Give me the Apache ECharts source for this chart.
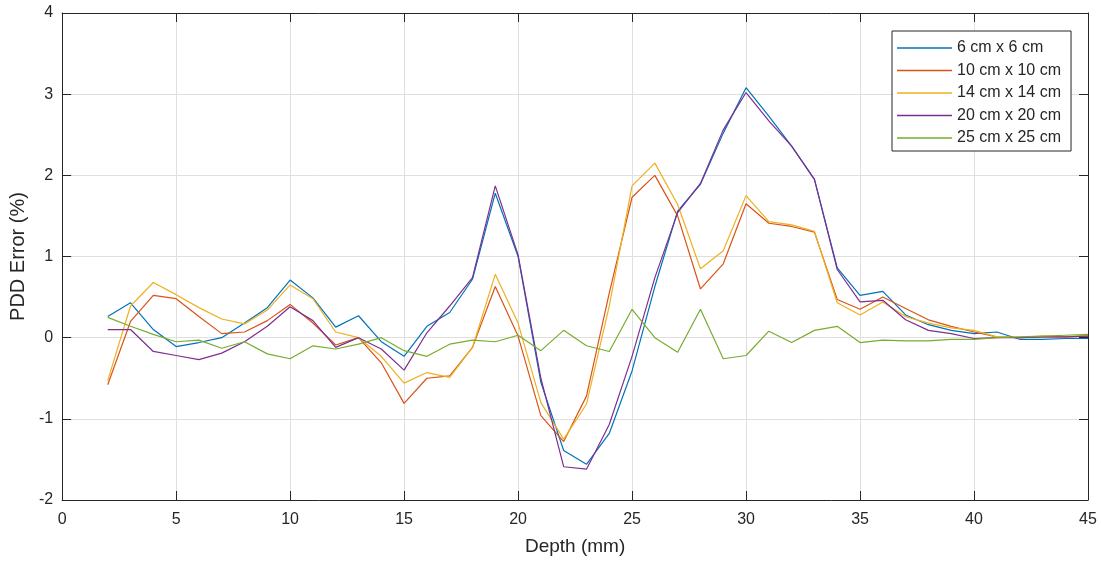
<!DOCTYPE html>
<html><head><meta charset="utf-8">
<script src="https://cdn.jsdelivr.net/npm/echarts@6/dist/echarts.min.js"></script>
<style>html,body{margin:0;padding:0;background:#fff}#c{width:1101px;height:563px}</style>
</head><body><div id="c"></div>
<script>
const depth = [2,3,4,5,6,7,8,9,10,11,12,13,14,15,16,17,18,19,20,21,22,23,24,25,26,27,28,29,30,31,32,33,34,35,36,37,38,39,40,41,42,43,44,45];
const s6  = [0.26,0.43,0.10,-0.11,-0.06,0.00,0.18,0.37,0.71,0.49,0.13,0.27,-0.05,-0.23,0.14,0.31,0.72,1.78,1.00,-0.55,-1.39,-1.56,-1.18,-0.41,0.63,1.56,1.89,2.52,3.08,2.73,2.36,1.95,0.86,0.52,0.57,0.28,0.16,0.09,0.05,0.07,-0.02,-0.02,-0.01,-0.01];
const s10 = [-0.58,0.20,0.52,0.48,0.26,0.05,0.07,0.21,0.41,0.18,-0.09,0.00,-0.31,-0.81,-0.50,-0.47,-0.12,0.63,0.02,-0.96,-1.28,-0.72,0.55,1.73,2.00,1.50,0.60,0.91,1.65,1.41,1.37,1.30,0.47,0.35,0.50,0.36,0.22,0.14,0.07,0.01,0.00,0.01,0.01,0.02];
const s14 = [-0.53,0.39,0.68,0.53,0.37,0.23,0.17,0.34,0.65,0.48,0.07,0.00,-0.23,-0.56,-0.43,-0.49,-0.12,0.78,0.18,-0.80,-1.25,-0.82,0.39,1.87,2.15,1.64,0.85,1.07,1.75,1.43,1.39,1.31,0.43,0.28,0.44,0.26,0.18,0.12,0.09,0.01,0.00,0.02,0.01,0.03];
const s20 = [0.10,0.10,-0.17,-0.22,-0.27,-0.19,-0.05,0.14,0.38,0.21,-0.12,0.00,-0.14,-0.40,0.06,0.39,0.74,1.87,1.02,-0.50,-1.59,-1.62,-1.07,-0.23,0.74,1.54,1.90,2.56,3.02,2.67,2.36,1.95,0.84,0.44,0.46,0.22,0.09,0.05,-0.01,0.00,0.00,0.01,0.01,0.02];
const s25 = [0.25,0.14,0.04,-0.05,-0.03,-0.13,-0.05,-0.20,-0.26,-0.10,-0.14,-0.08,0.00,-0.16,-0.23,-0.08,-0.03,-0.05,0.03,-0.16,0.09,-0.10,-0.17,0.35,0.00,-0.18,0.35,-0.26,-0.22,0.08,-0.06,0.09,0.14,-0.06,-0.03,-0.04,-0.04,-0.02,-0.02,0.00,0.01,0.02,0.03,0.04];
const names = ['6 cm x 6 cm','10 cm x 10 cm','14 cm x 14 cm','20 cm x 20 cm','25 cm x 25 cm'];
const colors = ['#0072BD','#D95319','#EDB120','#7E2F8E','#77AC30'];
const xTicks = [0,45,5];
const yTicks = [-2,4,1];

const all = [s6,s10,s14,s20,s25];
const axCol = '#262626';
const font = 'Liberation Sans, Arial, sans-serif';
const chart = echarts.init(document.getElementById('c'));
const baseX = {type:'value',min:xTicks[0],max:xTicks[1],interval:xTicks[2]};
const baseY = {type:'value',min:yTicks[0],max:yTicks[1],interval:yTicks[2]};
const tick = {show:true,inside:true,length:9,lineStyle:{color:axCol}};
const line = {show:true,onZero:false,lineStyle:{color:axCol,width:1}};
chart.setOption({
  animation:false,
  backgroundColor:'#fff',
  grid:{left:61,right:13,top:13,bottom:63,containLabel:false},
  legend:{
    orient:'vertical', left:892, top:31,
    data:names, icon:'rect', itemWidth:55, itemHeight:1.5, itemGap:6.5,
    backgroundColor:'#fff', borderColor:axCol, borderWidth:1, borderRadius:0,
    padding:[9,10,5,5],
    textStyle:{fontFamily:font,fontSize:16,color:axCol}
  },
  xAxis:[
    Object.assign({},baseX,{position:'bottom',name:'Depth (mm)',nameLocation:'middle',nameGap:37,
      nameTextStyle:{fontFamily:font,fontSize:19,color:axCol},
      axisLine:line, axisTick:tick,
      axisLabel:{fontFamily:font,fontSize:16,color:axCol,margin:12},
      splitLine:{show:true,lineStyle:{color:'#dfdfdf',width:1}}}),
    Object.assign({},baseX,{position:'top',axisLine:line,axisTick:tick,
      axisLabel:{show:false},splitLine:{show:false}})
  ],
  yAxis:[
    Object.assign({},baseY,{position:'left',name:'PDD Error (%)',nameLocation:'middle',nameGap:32,nameRotate:90,
      nameTextStyle:{fontFamily:font,fontSize:20,color:axCol,padding:[0,0,0,0]},
      axisLine:line, axisTick:tick,
      axisLabel:{fontFamily:font,fontSize:16,color:axCol,margin:9},
      splitLine:{show:true,lineStyle:{color:'#dfdfdf',width:1}}}),
    Object.assign({},baseY,{position:'right',axisLine:line,axisTick:tick,
      axisLabel:{show:false},splitLine:{show:false}})
  ],
  series: all.map((arr,i)=>({
    name:names[i], type:'line', xAxisIndex:0, yAxisIndex:0,
    data: depth.map((d,j)=>[d,arr[j]]),
    showSymbol:false, symbol:'none',
    lineStyle:{color:colors[i],width:1.2}, itemStyle:{color:colors[i]}
  }))
});
</script></body></html>
